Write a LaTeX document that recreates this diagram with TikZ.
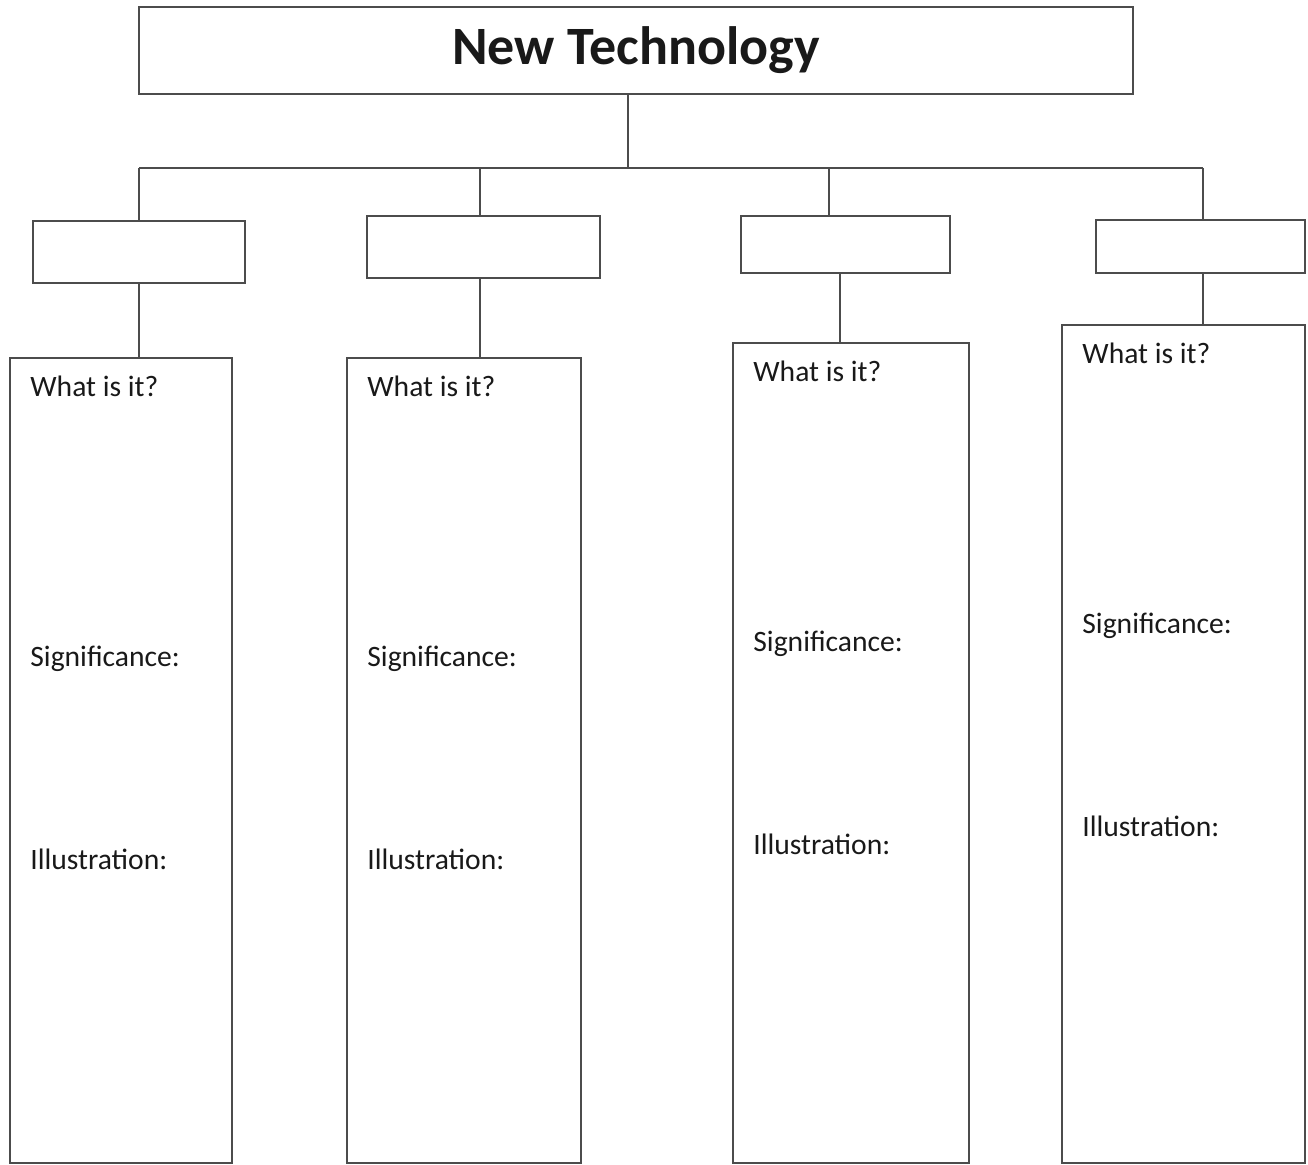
\documentclass[tikz,border=0pt]{standalone}
\usepackage{fontspec}
\setmainfont{Carlito}
\usetikzlibrary{positioning,calc}

\begin{document}
\begin{tikzpicture}[
  x=0.5pt, y=-0.5pt,
  head/.style={
    rectangle, draw=black!70, line width=0.8pt, inner sep=0pt, outer sep=0pt,
    minimum width=497pt, minimum height=43.5pt,
    align=center, font=\fontsize{27}{31}\selectfont\bfseries, text=black!90},
  tag/.style={
    rectangle, draw=black!70, line width=0.8pt, inner sep=0pt, outer sep=0pt},
  col/.style={
    rectangle, draw=black!70, line width=0.8pt, inner sep=0pt, outer sep=0pt,
    minimum height=402.5pt},
  wire/.style={draw=black!70, line width=0.8pt},
  lbl/.style={anchor=base west, inner sep=0pt,
    font=\fontsize{14.8}{17}\selectfont, text=black!90},
]
\useasboundingbox (0,0) rectangle (1308,1165);

%% ---- Title ----
\node[head] (title) at (636, 50.5) {New Technology};

%% ---- Small boxes ----
\node[tag, minimum width=106pt,   minimum height=31pt]   (tag1) at (139,    252)   {};
\node[tag, minimum width=116.5pt, minimum height=31pt]   (tag2) at (483.5,  247)   {};
\node[tag, minimum width=104.5pt, minimum height=28.5pt] (tag3) at (845.5,  244.5) {};
\node[tag, minimum width=104.5pt, minimum height=26.5pt] (tag4) at (1200.5, 246.5) {};

%% ---- Columns ----
\node[col, minimum width=111pt]   (col1) at (121,    760.5) {};
\node[col, minimum width=117pt]   (col2) at (464,    760.5) {};
\node[col, minimum width=118pt,   minimum height=410pt] (col3) at (851,    753) {};
\node[col, minimum width=121.5pt, minimum height=419pt] (col4) at (1183.5, 744) {};

%% ---- Column texts ----
\node[lbl] (what1) at ($(col1.north west)+(20,39)$)  {What is it?};
\node[lbl] (sig1)  at ($(col1.north west)+(20,309)$) {Significance:};
\node[lbl] (ill1)  at ($(col1.north west)+(20,512)$) {Illustration:};

\node[lbl] (what2) at ($(col2.north west)+(20,39)$)  {What is it?};
\node[lbl] (sig2)  at ($(col2.north west)+(20,309)$) {Significance:};
\node[lbl] (ill2)  at ($(col2.north west)+(20,512)$) {Illustration:};

\node[lbl] (what3) at ($(col3.north west)+(20,39)$)  {What is it?};
\node[lbl] (sig3)  at ($(col3.north west)+(20,309)$) {Significance:};
\node[lbl] (ill3)  at ($(col3.north west)+(20,512)$) {Illustration:};

\node[lbl] (what4) at ($(col4.north west)+(20,39)$)  {What is it?};
\node[lbl] (sig4)  at ($(col4.north west)+(20,309)$) {Significance:};
\node[lbl] (ill4)  at ($(col4.north west)+(20,512)$) {Illustration:};

%% ---- Bus from title ----
\coordinate (bus)   at (628,  168);
\coordinate (drop2) at (480,  168);
\coordinate (drop3) at (829,  168);
\coordinate (drop4) at (1203, 168);

\draw[wire] (title.south -| bus) -- (bus);
\draw[wire] (tag1.north |- bus) -- (drop4);
\draw[wire] (tag1.north |- bus) -- (tag1.north);
\draw[wire] (drop2) -- (drop2 |- tag2.north);
\draw[wire] (drop3) -- (drop3 |- tag3.north);
\draw[wire] (drop4) -- (drop4 |- tag4.north);

%% ---- Small boxes to columns ----
\draw[wire] (tag1.south) -- (tag1.south |- col1.north);
\draw[wire] ([xshift=-1.75pt]tag2.south) -- ([xshift=-1.75pt]tag2.south |- col2.north);
\draw[wire] ([xshift=-2.75pt]tag3.south) -- ([xshift=-2.75pt]tag3.south |- col3.north);
\draw[wire] (drop4 |- tag4.south) -- (drop4 |- col4.north);

\end{tikzpicture}
\end{document}
